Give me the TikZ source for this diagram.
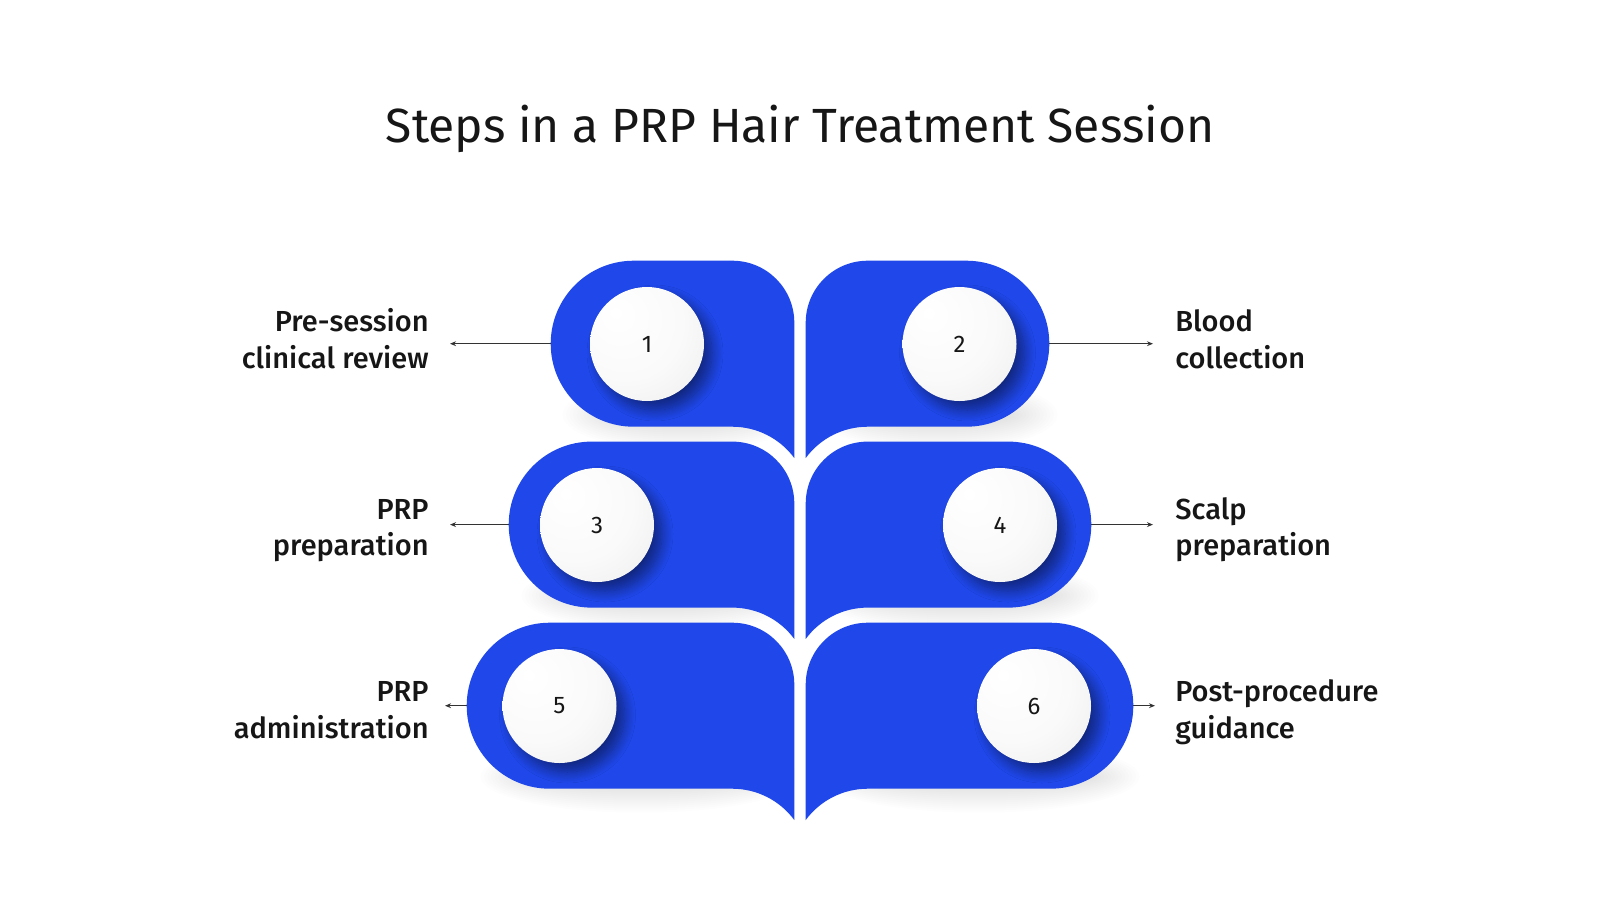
\documentclass[tikz,border=0pt]{standalone}
\usepackage{fontspec}
\setmainfont{Fira Sans}
\newfontfamily\labfont{Fira Sans Medium}
\usetikzlibrary{arrows.meta,shadows.blur}
\definecolor{leafblue}{HTML}{1F47E9}
\definecolor{ink}{HTML}{161616}
\definecolor{arrowgray}{HTML}{333333}
\pgfdeclareradialshading{pearl}{\pgfpoint{-14bp}{14bp}}{color(0bp)=(white); color(25bp)=(white!98!black); color(45bp)=(white!93!black); color(60bp)=(white!82!black); color(75bp)=(white!76!black)}
% #1 style, #2 left edge, #3 top
\newcommand\leafL[3]{%
  \path[#1] ({#2+83},#3) -- (732.3,#3) arc[start angle=-90,end angle=0,radius=62]
    -- (794.3,{#3+197.34}) arc[start angle=-36.38,end angle=-90,radius=77]
    -- ({#2+83},{#3+166}) arc[start angle=90,end angle=270,radius=83] -- cycle;}
% #1 style, #2 right edge, #3 top
\newcommand\leafR[3]{%
  \path[#1] ({#2-83},#3) -- (867.7,#3) arc[start angle=-90,end angle=-180,radius=62]
    -- (805.7,{#3+197.34}) arc[start angle=-143.62,end angle=-90,radius=77]
    -- ({#2-83},{#3+166}) arc[start angle=90,end angle=-90,radius=83] -- cycle;}
% soft shadow built from stacked faint ellipses: #1 centre x, #2 bottom y of leaf, #3 half width
\newcommand\leafshadow[3]{%
  \foreach \k in {0,...,13}{%
    \fill[black, opacity=0.0075] ({#1+10},{#2-12}) ellipse[x radius={#3-3.5*\k}, y radius={36-2*\k}];}}
\begin{document}
\begin{tikzpicture}[x=0.5pt,y=-0.5pt,
  leaf/.style={fill=leafblue},
  pearlc/.style={circle, minimum size=57pt, inner sep=0pt, shade, shading=pearl,
    blur shadow={shadow xshift=4pt, shadow yshift=-4.5pt, shadow blur radius=5.5pt, shadow opacity=45, shadow blur steps=14},
    font=\fontsize{12}{14}\selectfont, text=ink},
  lab/.style={font=\labfont\fontsize{14.5}{17}\selectfont, text=ink, inner sep=0pt},
  conn/.style={draw=arrowgray, line width=0.6pt, -{Stealth[length=3pt,width=2.4pt]}}]
\fill[white] (0,0) rectangle (1600,900);
\useasboundingbox (0,0) rectangle (1600,900);

\node[font=\fontsize{24}{29}\selectfont, text=ink, anchor=base, inner sep=0pt] (title) at (800,142) {Steps in a PRP Hair Treatment Session};

% soft shadows under the leaves, kept out of the central gap
\begin{scope}
  \clip (0,0) rectangle (794.3,900) (805.7,0) rectangle (1600,900);
  \leafshadow{672.5}{426.7}{120}
  \leafshadow{927.5}{426.7}{120}
  \leafshadow{651.5}{607.6}{140}
  \leafshadow{948.5}{607.6}{140}
  \leafshadow{630.5}{788.7}{160}
  \leafshadow{969.5}{788.7}{160}
\end{scope}

% leaves
\leafL{leaf}{550.7}{260.7}
\leafR{leaf}{1049.3}{260.7}
\leafL{leaf}{508.7}{441.6}
\leafR{leaf}{1091.3}{441.6}
\leafL{leaf}{466.7}{622.7}
\leafR{leaf}{1133.3}{622.7}

% step discs
\node[pearlc] (c1) at (647,344) {1};
\node[pearlc] (c2) at (959.5,344) {2};
\node[pearlc] (c3) at (597,525) {3};
\node[pearlc] (c4) at (1000,525) {4};
\node[pearlc] (c5) at (559.5,706) {5};
\node[pearlc] (c6) at (1034,706) {6};

% connector ends
\coordinate (e1) at (550.7,343.7); \coordinate (t1) at (450,343.7);
\coordinate (e3) at (508.7,524.6); \coordinate (t3) at (450,524.6);
\coordinate (e5) at (466.7,705.7); \coordinate (t5) at (445,705.7);
\coordinate (e2) at (1049.3,343.7); \coordinate (t2) at (1153,343.7);
\coordinate (e4) at (1091.3,524.6); \coordinate (t4) at (1153,524.6);
\coordinate (e6) at (1133.3,705.7); \coordinate (t6) at (1155,705.7);
\draw[conn] (e1) -- (t1);
\draw[conn] (e3) -- (t3);
\draw[conn] (e5) -- (t5);
\draw[conn] (e2) -- (t2);
\draw[conn] (e4) -- (t4);
\draw[conn] (e6) -- (t6);

% labels
\node[lab, anchor=base east] (l1a) at (429,331) {Pre-session};
\node[lab, anchor=base east] (l1b) at (429,368) {clinical review};
\node[lab, anchor=base east] (l3a) at (429,519) {PRP};
\node[lab, anchor=base east] (l3b) at (429,555) {preparation};
\node[lab, anchor=base east] (l5a) at (429,701) {PRP};
\node[lab, anchor=base east] (l5b) at (429,738) {administration};
\node[lab, anchor=base west] (l2a) at (1175,331) {Blood};
\node[lab, anchor=base west] (l2b) at (1175,368) {collection};
\node[lab, anchor=base west] (l4a) at (1175,519) {Scalp};
\node[lab, anchor=base west] (l4b) at (1175,555) {preparation};
\node[lab, anchor=base west] (l6a) at (1175,701) {Post-procedure};
\node[lab, anchor=base west] (l6b) at (1175,738) {guidance};
\end{tikzpicture}
\end{document}
